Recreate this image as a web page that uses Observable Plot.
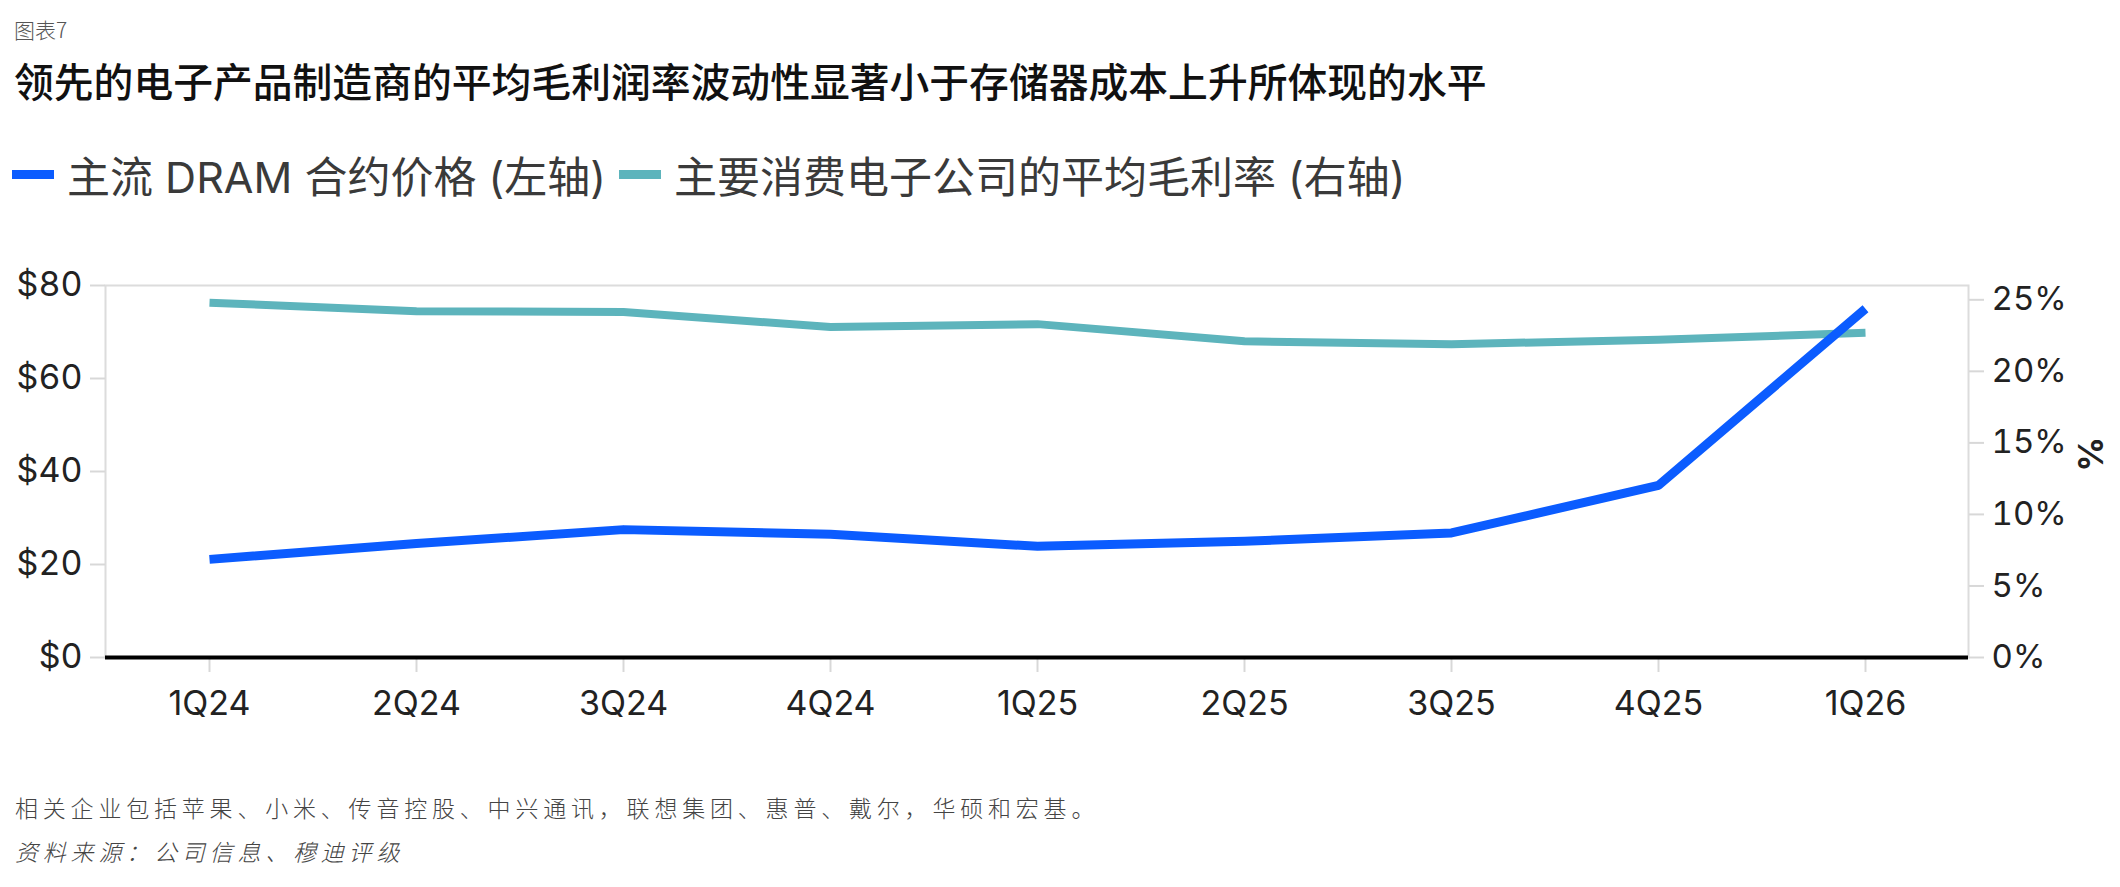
<!DOCTYPE html>
<html>
<head>
<meta charset="utf-8">
<script src="https://cdn.jsdelivr.net/npm/d3@7"></script>
<script src="https://cdn.jsdelivr.net/npm/@observablehq/plot@0.6"></script>
<style>
  html, body { margin: 0; padding: 0; background: #fff; }
  body { width: 2120px; height: 887px; position: relative; overflow: hidden;
         font-family: Inter, "Noto Sans CJK SC", sans-serif; }
  #fig { position: absolute; left: 14px; top: 19px; font-size: 21px; color: #555;
         font-family: "Noto Sans CJK SC", sans-serif; font-weight: 300; line-height: 1; white-space: nowrap; }
  #title { position: absolute; left: 14px; top: 60px; font-size: 39.8px; color: #111;
           font-family: "Noto Sans CJK SC", sans-serif; font-weight: 500; line-height: 1; white-space: nowrap; }
  .leg { position: absolute; top: 148px; height: 52px; display: flex; align-items: center; white-space: nowrap;
         font-size: 43px; color: #3a3a3a; font-family: Inter, "Noto Sans CJK SC", sans-serif; }
  .sw { width: 42px; height: 9px; margin-right: 13px; }
  .foot { position: absolute; left: 15px; font-size: 23px; letter-spacing: 4.8px; color: #444; white-space: nowrap;
          font-family: "Noto Sans CJK SC", sans-serif; font-weight: 300; line-height: 1; }
  #chart { position: absolute; left: 0; top: 230px; }
</style>
</head>
<body>
<div id="fig"></div>
<div id="title"></div>
<div id="legend"></div>
<div id="chart"></div>
<div id="foot1" class="foot" style="top:796px"></div>
<div id="foot2" class="foot" style="top:840px;font-style:italic"></div>
<script>
const figLabel = "图表7";
const titleText = "领先的电子产品制造商的平均毛利润率波动性显著小于存储器成本上升所体现的水平";
const seriesNames = ["主流 DRAM 合约价格 (左轴)", "主要消费电子公司的平均毛利率 (右轴)"];
const seriesColors = ["#0b5cff", "#5db4bc"];
const quarters = ["1Q24", "2Q24", "3Q24", "4Q24", "1Q25", "2Q25", "3Q25", "4Q25", "1Q26"];
const dramPrice = [21.1, 24.5, 27.5, 26.5, 23.9, 25.0, 26.8, 37.0, 75.0];
const grossMargin = [24.8, 24.2, 24.15, 23.1, 23.3, 22.1, 21.9, 22.2, 22.7];
const leftTicks = [0, 20, 40, 60, 80];
const rightTicks = [0, 5, 10, 15, 20, 25];
const leftMax = 80;
const rightMax = 26;
const rightLabel = "%";
const note1 = "相关企业包括苹果、小米、传音控股、中兴通讯，联想集团、惠普、戴尔，华硕和宏基。";
const note2 = "资料来源：公司信息、穆迪评级";

document.getElementById("fig").textContent = figLabel;
document.getElementById("title").textContent = titleText;
document.getElementById("foot1").textContent = note1;
document.getElementById("foot2").textContent = note2;

const legendLefts = [12, 619];
const legend = document.getElementById("legend");
seriesNames.forEach((name, i) => {
  const item = document.createElement("div");
  item.className = "leg";
  item.style.left = legendLefts[i] + "px";
  const sw = document.createElement("span");
  sw.className = "sw";
  sw.style.background = seriesColors[i];
  const tx = document.createElement("span");
  tx.textContent = name;
  item.appendChild(sw);
  item.appendChild(tx);
  legend.appendChild(item);
});

const k = leftMax / rightMax;
const dramData = quarters.map((q, i) => ({q, v: dramPrice[i]}));
const marginData = quarters.map((q, i) => ({q, v: grossMargin[i]}));

const fontFam = "Inter, 'Noto Sans CJK SC', sans-serif";
const chart = Plot.plot({
  width: 2120,
  height: 520,
  marginTop: 55,
  marginBottom: 93,
  marginLeft: 105,
  marginRight: 152,
  style: {fontFamily: fontFam, fontSize: "34px", color: "#222", background: "transparent"},
  x: {type: "point", domain: quarters, padding: 0.5, axis: null},
  y: {domain: [0, leftMax], axis: null},
  marks: [
    Plot.frame({stroke: "#dcdcdc", strokeWidth: 2}),
    Plot.axisX(quarters, {tickSize: 15, tickPadding: 18, stroke: "#d8d8d8", strokeWidth: 2,
      fill: "#222", fontSize: 34, label: null}),
    Plot.axisY(leftTicks, {anchor: "left", tickSize: 15, tickPadding: 8, stroke: "#d8d8d8", strokeWidth: 2,
      fill: "#222", fontSize: 34, tickFormat: d => "$" + d, label: null}),
    Plot.axisY(rightTicks, {anchor: "right", y: d => d * k, tickSize: 15, tickPadding: 8,
      stroke: "#d8d8d8", strokeWidth: 2, fill: "#222", fontSize: 33, letterSpacing: "-0.5px",
      tickFormat: d => d + "%", label: null}),
    Plot.text([rightLabel], {frameAnchor: "right", dx: 120, rotate: 90, fontSize: 34,
      fontWeight: "bold", fill: "#222", text: d => d}),
    Plot.ruleY([0], {stroke: "#000", strokeWidth: 4}),
    Plot.line(marginData, {x: "q", y: d => d.v * k, stroke: seriesColors[1], strokeWidth: 8,
      strokeLinecap: "butt", strokeLinejoin: "round"}),
    Plot.line(dramData, {x: "q", y: "v", stroke: seriesColors[0], strokeWidth: 9,
      strokeLinecap: "butt", strokeLinejoin: "round"})
  ]
});
document.getElementById("chart").appendChild(chart);
</script>
</body>
</html>
